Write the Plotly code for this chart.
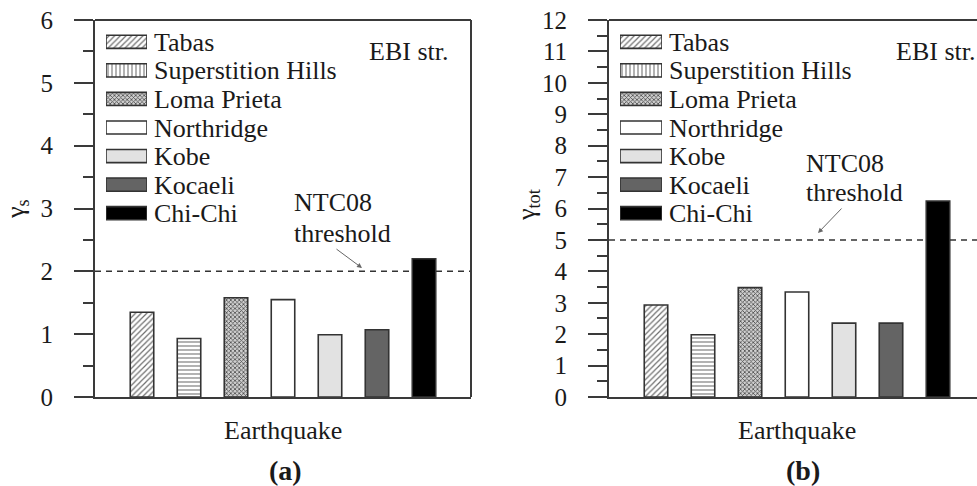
import plotly.graph_objects as go

# ---------------- data ----------------
quakes = ["Tabas", "Superstition Hills", "Loma Prieta", "Northridge", "Kobe", "Kocaeli", "Chi-Chi"]
gamma_s = [1.35, 0.93, 1.58, 1.55, 0.99, 1.07, 2.20]
gamma_tot = [2.93, 1.98, 3.48, 3.34, 2.35, 2.35, 6.24]
thr_s = 2.0
thr_tot = 5.0
yticks_s = list(range(0, 7))
yticks_tot = list(range(0, 13))

# ---------------- styles ----------------
W, H = 977, 486
FONT = "Liberation Serif"
TXT = "#1a1a1a"
AX = "#3a3a3a"
fill_bg = ["white", "white", "#cfcfcf", "white", "#e2e2e2", "#646464", "#000000"]
pat_fg = ["#6f6f6f", "#7f7f7f", "#4a4a4a", None, None, None, None]
pat_size = [4, 4, 3, 4, 4, 4, 4]
pat_sol = [0.3, 0.3, 0.45, 0.3, 0.3, 0.3, 0.3]
bar_shapes = ["/", "-", "x", "", "", "", ""]
leg_shapes = ["/", "|", "x", "", "", "", ""]


def px(x):
    return x / W


def py(y):
    return 1 - y / H


fig = go.Figure()


def marker_for(i, shapes):
    m = dict(color=fill_bg[i], line=dict(color="#333333", width=1.6))
    if shapes[i]:
        m["pattern"] = dict(shape=shapes[i], fgcolor=pat_fg[i], bgcolor=fill_bg[i],
                            size=pat_size[i], solidity=pat_sol[i], fillmode="replace")
    return m


for i, q in enumerate(quakes):
    fig.add_trace(go.Bar(x=[q], y=[gamma_s[i]], xaxis="x", yaxis="y", width=0.5,
                         marker=marker_for(i, bar_shapes), showlegend=False, hoverinfo="skip"))
    fig.add_trace(go.Bar(x=[q], y=[gamma_tot[i]], xaxis="x2", yaxis="y2", width=0.5,
                         marker=marker_for(i, bar_shapes), showlegend=False, hoverinfo="skip"))
    for xa, ya in [("x3", "y3"), ("x4", "y4")]:
        fig.add_trace(go.Bar(y=[q], x=[1], orientation="h", xaxis=xa, yaxis=ya, width=0.46,
                             marker=marker_for(i, leg_shapes), showlegend=False, hoverinfo="skip"))

ydom = [py(397), py(20)]
ax_common = dict(showline=True, linecolor=AX, linewidth=2, ticks="outside", ticklen=19,
                 tickwidth=2, tickcolor=AX, showgrid=False, zeroline=False, automargin=False,
                 tickfont=dict(family=FONT, size=25, color=TXT), ticklabelstandoff=16,
                 minor=dict(ticks="outside", ticklen=10, tickwidth=2, tickcolor=AX, dtick=0.5,
                            showgrid=False))
x_common = dict(showline=True, linecolor=AX, linewidth=2, ticks="", showticklabels=False,
                showgrid=False, zeroline=False, type="category", automargin=False,
                categoryorder="array", categoryarray=quakes)
leg_y = dict(type="category", range=[6.5, -0.5], side="right", showline=False, ticks="",
             showgrid=False, zeroline=False, tickfont=dict(family=FONT, size=26, color=TXT),
             ticklabelstandoff=6, domain=[py(227.5), py(27.5)], automargin=False,
             tickmode="array", tickvals=quakes, ticktext=quakes,
             categoryorder="array", categoryarray=quakes)

fig.update_layout(
    width=W, height=H, margin=dict(l=0, r=0, t=0, b=0, autoexpand=False),
    font=dict(family=FONT, color=TXT),
    paper_bgcolor="white", plot_bgcolor="rgba(0,0,0,0)", barmode="overlay",
    xaxis=dict(domain=[px(95), px(471)], range=[-1, 7], anchor="y", **x_common),
    yaxis=dict(domain=ydom, range=[0, 6], tickvals=yticks_s, anchor="x", **ax_common),
    xaxis2=dict(domain=[px(609), 1.0], range=[-1, 6.83], anchor="y2", **x_common),
    yaxis2=dict(domain=ydom, range=[0, 12], tickvals=yticks_tot, anchor="x2", **ax_common),
    xaxis3=dict(domain=[px(106), px(147)], range=[0, 1], anchor="y3", visible=False, automargin=False),
    yaxis3=dict(anchor="x3", **leg_y),
    xaxis4=dict(domain=[px(620), px(662)], range=[0, 1], anchor="y4", visible=False, automargin=False),
    yaxis4=dict(anchor="x4", **leg_y),
)

# frame lines (top / right)
for xr, yr, pts in [("x domain", "y domain", [(0, 1, 1, 1), (1, 0, 1, 1)]),
                    ("x2 domain", "y2 domain", [(0, 1, 1, 1)])]:
    for x0, y0, x1, y1 in pts:
        fig.add_shape(type="line", xref=xr, yref=yr, x0=x0, y0=y0, x1=x1, y1=y1,
                      line=dict(color=AX, width=2), layer="above")

# threshold lines
fig.add_shape(type="line", xref="x domain", yref="y", x0=0, x1=1, y0=thr_s, y1=thr_s,
              line=dict(color="#333333", width=1.5, dash="6px,5px"), layer="below")
fig.add_shape(type="line", xref="x2 domain", yref="y2", x0=0, x1=1, y0=thr_tot, y1=thr_tot,
              line=dict(color="#333333", width=1.5, dash="6px,5px"), layer="below")


def text(x, y, s, size=26, xanchor="center", bold=False, angle=0):
    fig.add_annotation(xref="paper", yref="paper", x=px(x), y=py(y),
                       text=("<b>%s</b>" % s) if bold else s,
                       showarrow=False, xanchor=xanchor, yanchor="middle", textangle=angle,
                       borderpad=0, font=dict(family=FONT, size=size, color=TXT))


text(449, 52, "EBI str.", xanchor="right")
text(976, 52, "EBI str.", xanchor="right")
text(293, 203, "NTC08", xanchor="left")
text(293, 233, "threshold", xanchor="left")
text(805, 163, "NTC08", xanchor="left")
text(805, 192, "threshold", xanchor="left")
text(283, 430, "Earthquake")
text(797, 430, "Earthquake")
text(285, 470, "(a)", size=28, bold=True)
text(803, 470, "(b)", size=28, bold=True)
text(17, 209, "γ<sub>s</sub>", angle=-90)
text(528, 205, "γ<sub>tot</sub>", angle=-90)

# arrows
for hx, hy, ax_, ay_ in [(362, 268, -27, -20), (818, 233, 25, -26)]:
    fig.add_annotation(xref="paper", yref="paper", x=px(hx), y=py(hy), ax=ax_, ay=ay_, text="",
                       showarrow=True, arrowhead=2, arrowsize=1, arrowwidth=1, arrowcolor="#666666")

fig.write_html("out.html", config={"displayModeBar": False},
               post_script="document.body.style.margin='0';document.body.style.padding='0';")
